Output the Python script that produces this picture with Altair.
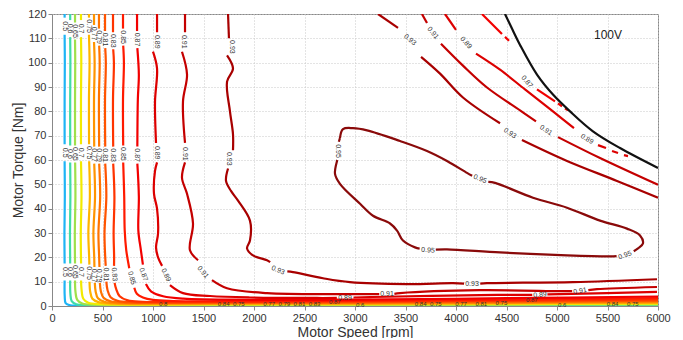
import altair as alt
import pandas as pd

# ---------------- data (rpm, torque Nm) ----------------
LEVELS = ["0.1", "0.5", "0.6", "0.65", "0.7", "0.75", "0.77", "0.79", "0.81",
          "0.83", "0.85", "0.87", "0.89", "0.91", "0.93", "0.95"]
COLORS = ["#00109a", "#1eb4f5", "#3fdca8", "#9fe04a", "#f2ea00", "#ffb400",
          "#ff9400", "#ff7400", "#ff5400", "#ff3400", "#ff1a00", "#f20000",
          "#dc0000", "#c40000", "#a80000", "#8a0a0a"]

c010 = [[(3890, 0.1), (6000, 0.1)]]
c050 = [[(125, 120), (125, 118.5)],
        [(125, 111.5), (127, 100), (125, 85), (125, 66.5)],
        [(125, 59.5), (127, 45), (123, 30), (125, 17.5)],
        [(125, 10.5), (126, 4), (135, 1.2), (170, 0.4), (300, 0.15), (1500, 0.1), (3890, 0.1)]]
c060 = [[(180, 120), (180, 117.5)],
        [(180, 110.5), (182, 100), (180, 85), (180, 66)],
        [(180, 59), (182, 45), (178, 30), (180, 17.5)],
        [(180, 10.5), (182, 5), (195, 2), (240, 0.7), (350, 0.35), (1500, 0.3), (3000, 0.3), (4500, 0.35), (6000, 0.45)]]
c065 = [[(228, 120), (228, 116.5)],
        [(228, 109.5), (230, 100), (228, 85), (228, 66)],
        [(229, 59), (232, 45), (226, 30), (228, 17.5)],
        [(228, 10.5), (232, 6), (250, 2.5), (300, 1), (450, 0.5), (1500, 0.45), (3000, 0.5), (4500, 0.6), (6000, 0.7)]]
c070 = [[(287, 120), (287, 117.5)],
        [(287, 110.5), (290, 100), (287, 85), (287, 66.5)],
        [(287, 59.5), (292, 45), (285, 30), (288, 17.5)],
        [(288, 10.5), (292, 7), (310, 3), (360, 1.3), (500, 0.75), (1500, 0.65), (3000, 0.7), (4500, 0.8), (6000, 0.95)]]
c075 = [[(366, 120), (366, 118.5)],
        [(366, 111.5), (372, 100), (366, 85), (367, 66.5)],
        [(368, 59.5), (375, 45), (360, 30), (368, 20), (370, 17)],
        [(372, 10), (378, 6), (400, 3), (460, 1.6), (600, 0.95), (1500, 0.85), (3000, 0.9), (4500, 1.05), (6000, 1.25)]]
c077 = [[(416, 120), (416, 115.5)],
        [(416, 108.5), (422, 100), (416, 85), (418, 65.5)],
        [(418, 58.5), (426, 45), (410, 30), (418, 20), (420, 16)],
        [(424, 9.5), (432, 6), (455, 3.2), (520, 1.7), (650, 1.1), (1500, 1.0), (3000, 1.1), (4500, 1.3), (6000, 1.55)]]
c079 = [[(465, 120), (465, 114)],
        [(467, 107), (472, 100), (465, 85), (467, 65.5)],
        [(467, 58.5), (477, 45), (460, 30), (467, 20), (470, 16)],
        [(474, 9.5), (484, 6), (510, 3.4), (580, 1.9), (720, 1.3), (1500, 1.2), (3000, 1.3), (4500, 1.55), (6000, 1.9)]]
c081 = [[(525, 120), (525, 113)],
        [(527, 106), (533, 100), (525, 85), (527, 65.5)],
        [(527, 58.5), (538, 45), (520, 30), (527, 20), (532, 16.5)],
        [(538, 10), (550, 6.5), (580, 3.6), (650, 2.1), (800, 1.5), (1500, 1.4), (3000, 1.55), (4500, 1.85), (6000, 2.25)]]
c083 = [[(604, 120), (604, 112.5)],
        [(606, 105.5), (613, 100), (604, 85), (606, 65.5)],
        [(606, 58.5), (618, 45), (610, 30), (615, 20), (614, 16.5)],
        [(620, 9.5), (635, 7), (670, 4), (750, 2.3), (900, 1.75), (1500, 1.65), (3000, 1.85), (4500, 2.2), (6000, 2.7)]]
c085 = [[(703, 120), (703, 114)],
        [(705, 107), (712, 100), (703, 85), (705, 66)],
        [(705, 59), (715, 45), (720, 31), (735, 23), (765, 15.5)],
        [(815, 7.5), (840, 5), (900, 3.5), (1000, 2.5), (1200, 2.05), (2000, 2.0), (3000, 2.2), (4500, 2.65), (6000, 3.25)]]
c087 = [[(842, 120), (842, 113)],
        [(845, 106), (860, 95), (850, 85), (845, 65.5)],
        [(845, 58.5), (860, 45), (855, 31), (880, 23), (900, 17)],
        [(930, 9), (980, 6), (1100, 4), (1300, 3), (2000, 2.55), (3000, 2.65), (4500, 3.2), (6000, 3.9)]]
c089 = [[(1040, 120), (1040, 112.5)],
        [(1000, 104.5), (1040, 97.6), (1020, 84.1), (1030, 67)],
        [(1040, 59), (1020, 55.5), (1010, 46.1), (1040, 40), (1050, 29.8), (1030, 24.1), (1050, 20), (1090, 16.5)],
        [(1168, 8.6), (1297, 5.3), (1564, 4.1), (1960, 3.5), (2624, 3.3), (2820, 3.3)],
        [(2985, 3.5), (3178, 3.7), (4238, 4.5), (4755, 4.6)],
        [(4905, 4.8), (5030, 4.9), (5990, 5.8)]]
c091 = [[(1317, 120), (1317, 112.5)],
        [(1287, 104.5), (1337, 95.1), (1297, 84.1), (1317, 67)],
        [(1317, 59), (1287, 52.7), (1337, 46.1), (1396, 33.9), (1366, 22.9), (1446, 18.8)],
        [(1584, 10.6), (1733, 7.3), (2129, 5.3), (2950, 4.9), (3240, 4.9)],
        [(3390, 5.0), (3446, 5.3), (4238, 6.5), (5030, 6.1), (5150, 6.1)],
        [(5310, 6.5), (5396, 6.9), (5990, 7.8)]]
c093 = [[(1743, 120), (1752, 110)],
        [(1733, 103), (1792, 97.6), (1733, 92.2), (1762, 80), (1792, 70.6), (1792, 64)],
        [(1743, 56.5), (1723, 51.4), (1772, 47.3), (1842, 43.3), (1960, 35.1), (1960, 26.9), (1931, 23.7), (1990, 20.8), (2129, 18.8), (2160, 18)],
        [(2330, 14.2), (2386, 13.9), (2683, 11.4), (2950, 9.8), (3515, 9.0), (3970, 9.4), (4080, 9.2)],
        [(4240, 9.2), (4307, 9.4), (5158, 9.8), (5990, 11.0)],
        [(3228, 120), (3426, 114.3)],
        [(3654, 102.4), (3842, 95.5), (4069, 85.7), (4436, 75.1)],
        [(4653, 68.2), (5099, 59.6), (5594, 51.4), (6000, 44.5)]]
c091r = [[(3663, 120), (3713, 116.3)],
         [(3851, 107.8), (4069, 98.8), (4307, 89.8), (4634, 80.4), (4792, 75.9)],
         [(5010, 69.4), (5426, 60.8), (6000, 49.8)]]
c089r = [[(3891, 120), (4000, 113.5)],
         [(4198, 103.7), (4436, 97.1), (4683, 89.0), (4960, 80.0), (5168, 73.1)]]
c087r = [[(4257, 120), (4455, 111.8)],
         [(4802, 89.0), (4980, 84.1)]]
c095 = [[(2851, 69.0), (2881, 72.7), (2980, 73.1), (3119, 72.2), (3446, 67.8), (3713, 63.7), (3911, 59.6), (4109, 54.7), (4160, 53.5)],
        [(4320, 51.0), (4386, 50.6), (4762, 44.5), (5099, 40.4), (5426, 35.1), (5693, 31.8), (5822, 29.0), (5851, 25.7), (5802, 23.7), (5760, 22.5)],
        [(5590, 20.5), (5525, 20.4), (5099, 20.8), (4436, 22.0), (3911, 23.3), (3800, 23.2)],
        [(3640, 23.6), (3594, 24.1), (3475, 26.9), (3416, 31.0), (3347, 33.9), (3178, 37.1), (3050, 42.0), (2851, 50.2), (2802, 54.3), (2822, 59.6), (2825, 60)],
        [(2840, 67.5), (2851, 69.0)]]

# broken (dashed-looking) pieces near the voltage limit
d089 = [[(5406, 66.1), (5485, 64.9)], [(5545, 63.7), (5604, 62.9)], [(5663, 62.0), (5703, 61.6)]]
d087 = [[(4485, 110.6), (4525, 109.0)], [(5010, 83.3), (5050, 82.0)], [(5079, 81.2), (5109, 80.4)]]

# 100 V voltage-limit curve
limit_rpm = [4485, 4560, 4634, 4802, 4960, 5129, 5356, 5624, 6000]
limit_nm = [120, 113.5, 107.3, 95.1, 86.9, 80.0, 71.8, 64.9, 56.7]

# contour labels: text, rpm, torque, angle
LABELS = [
    ("0.5", 125, 115, 90), ("0.6", 180, 114, 90), ("0.65", 228, 113, 90), ("0.7", 287, 114, 90),
    ("0.75", 366, 115, 90), ("0.77", 416, 112, 90), ("0.79", 466, 110.5, 90), ("0.81", 526, 109.5, 90),
    ("0.83", 605, 109, 90), ("0.85", 704, 110.5, 90), ("0.87", 843, 109.5, 90), ("0.89", 1040, 108.6, 90),
    ("0.91", 1307, 108.6, 90), ("0.93", 1782, 106.5, 90),
    ("0.5", 125, 63, 90), ("0.6", 180, 62.5, 90), ("0.65", 229, 62.5, 90), ("0.7", 287, 63, 90),
    ("0.75", 367, 63, 90), ("0.77", 417, 62, 90), ("0.79", 466, 62, 90), ("0.81", 526, 62, 90),
    ("0.83", 605, 62, 90), ("0.85", 704, 62.5, 90), ("0.87", 845, 62, 90), ("0.89", 1035, 63, 90),
    ("0.91", 1317, 62.5, 90), ("0.93", 1752, 60.5, 90),
    ("0.5", 125, 14, 90), ("0.6", 180, 14, 90), ("0.65", 229, 14, 90), ("0.7", 288, 14, 90),
    ("0.75", 370, 13.5, 90), ("0.77", 420, 12.5, 90), ("0.79", 470, 12.5, 90), ("0.81", 533, 13, 90),
    ("0.83", 616, 13, 85), ("0.85", 790, 11.5, 75), ("0.87", 905, 13, 70), ("0.89", 1129, 12.7, 65),
    ("0.91", 1495, 13.9, 50), ("0.93", 2238, 14.7, 22),
    ("0.93", 3545, 109.4, 40), ("0.93", 4535, 71.0, 35), ("0.91", 3772, 112.2, 50), ("0.91", 4891, 72.2, 33),
    ("0.89", 4099, 108.2, 48), ("0.89", 5297, 68.6, 32), ("0.87", 4703, 92.2, 50),
    ("0.95", 4238, 52.2, 22), ("0.95", 5673, 20.8, 340), ("0.95", 3723, 22.9, 4), ("0.95", 2832, 63.7, 90),
    ("0.89", 2901, 3.3, 0), ("0.91", 3317, 4.9, 0), ("0.93", 4158, 9.0, 0), ("0.89", 4832, 4.6, 355),
    ("0.91", 5228, 6.1, 350),
]
SMALL_LABELS = [
    ("0.8", 1100, 0.8), ("0.84", 1700, 0.9), ("0.75", 1850, 0.9), ("0.77", 2150, 0.9), ("0.79", 2300, 0.9),
    ("0.81", 2450, 0.9), ("0.83", 2600, 0.9), ("0.87", 2800, 1.6), ("0.6", 3050, 0.6), ("0.84", 3650, 0.9),
    ("0.75", 3800, 0.9), ("0.77", 4050, 0.9), ("0.81", 4250, 0.9), ("0.75", 4450, 1.2), ("0.87", 4750, 2.4),
    ("0.6", 5050, 0.6), ("0.84", 5550, 0.9), ("0.75", 5750, 1.0),
]

CONTOURS = [("0.1", c010), ("0.5", c050), ("0.6", c060), ("0.65", c065), ("0.7", c070), ("0.75", c075),
            ("0.77", c077), ("0.79", c079), ("0.81", c081), ("0.83", c083), ("0.85", c085),
            ("0.87", c087), ("0.89", c089), ("0.91", c091), ("0.93", c093), ("0.91", c091r),
            ("0.89", c089r), ("0.87", c087r), ("0.95", c095)]
DASHED = [("0.89", d089), ("0.87", d087)]


def to_rows(groups, tag):
    rows = []
    for gi, (lvl, segs) in enumerate(groups):
        for si, seg in enumerate(segs):
            for pi, (r, t) in enumerate(seg):
                rows.append({"level": lvl, "seg": f"{tag}{gi}-{si}", "i": pi, "rpm": r, "torque": t})
    return pd.DataFrame(rows)


lines_df = to_rows(CONTOURS, "c")
dash_df = to_rows(DASHED, "d")
limit_df = pd.DataFrame({"rpm": limit_rpm, "torque": limit_nm, "i": range(len(limit_rpm))})
lab_df = pd.DataFrame(LABELS, columns=["text", "rpm", "torque", "angle"])
small_df = pd.DataFrame(SMALL_LABELS, columns=["text", "rpm", "torque"])
note_df = pd.DataFrame({"text": ["100V"], "rpm": [5505], "torque": [111.4]})

FONT = "Liberation Sans"
xs = alt.Scale(domain=[0, 6000], nice=False, zero=False)
ys = alt.Scale(domain=[0, 120], nice=False, zero=False)
X = alt.X("rpm:Q", scale=xs, title="Motor Speed [rpm]",
          axis=alt.Axis(values=list(range(0, 6001, 500)), format="d", labelFlush=False))
Y = alt.Y("torque:Q", scale=ys, title="Motor Torque [Nm]",
          axis=alt.Axis(values=list(range(0, 121, 10)), format="d", labelFlush=False))
col = alt.Color("level:N", scale=alt.Scale(domain=LEVELS, range=COLORS), legend=None)

solid = alt.Chart(lines_df).mark_line(strokeWidth=2.2, clip=True, interpolate="catmull-rom").encode(
    x=X, y=Y, color=col, detail="seg:N", order="i:Q")
dashed = alt.Chart(dash_df).mark_line(strokeWidth=2.2, clip=True).encode(
    x=X, y=Y, color=col, detail="seg:N", order="i:Q")
limit = alt.Chart(limit_df).mark_line(color="#111111", strokeWidth=2.2, clip=True,
                                      interpolate="catmull-rom").encode(x=X, y=Y, order="i:Q")
labels = alt.Chart(lab_df).mark_text(font=FONT, fontSize=7, color="#333333").encode(
    x=X, y=Y, text="text:N", angle=alt.Angle("angle:Q", scale=None))
small = alt.Chart(small_df).mark_text(font=FONT, fontSize=6, color="#333333").encode(
    x=X, y=Y, text="text:N")
note = alt.Chart(note_df).mark_text(font=FONT, fontSize=12, color="#222222").encode(
    x=X, y=Y, text="text:N")

chart = alt.layer(solid, dashed, limit, labels, small, note).properties(
    width=606, height=292,
    autosize=alt.AutoSizeParams(type="none"),
    padding={"left": 44, "top": 6, "right": 17, "bottom": 32},
).configure_view(stroke="#888888", strokeWidth=1).configure_axis(
    labelFont=FONT, titleFont=FONT, labelFontSize=11, titleFontSize=14,
    labelColor="#333333", titleColor="#333333", titleFontWeight="normal",
    gridColor="#c8c8c8", gridDash=[1, 2], gridWidth=1,
    domainColor="#888888", tickColor="#888888", tickSize=4, labelPadding=2,
).configure_axisX(titlePadding=2).configure_axisY(titlePadding=2)

chart.save("out.html", embed_options={"renderer": "svg", "actions": False})
